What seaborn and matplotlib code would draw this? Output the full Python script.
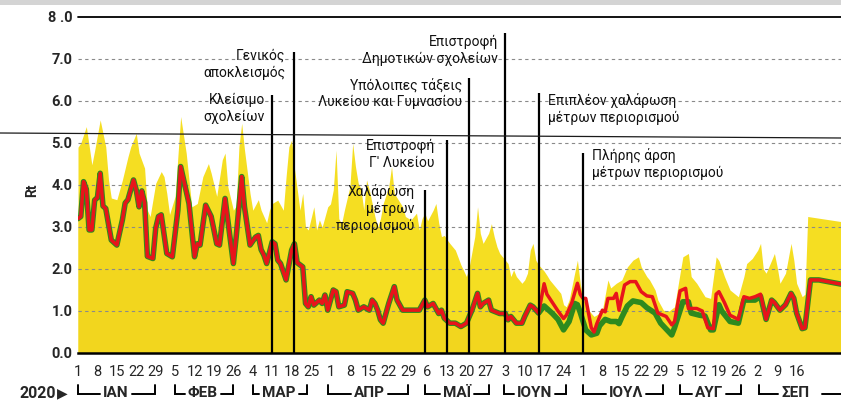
import numpy as np
import pandas as pd
import seaborn as sns
import matplotlib.pyplot as plt
from matplotlib.lines import Line2D
from matplotlib.patches import Rectangle

# Rt estimate (red), days counted from 1 Jan 2020
red_days = [0, 1, 2, 3, 4, 5, 6, 7, 8, 9, 10, 12, 14, 16, 17, 18, 20, 21, 22, 23,
            24, 25, 27, 28, 29, 30, 32, 34, 36, 37, 40, 42, 43, 44, 46, 48, 50, 51,
            53, 54, 56, 57, 59, 60, 62, 64, 65, 66, 67, 68, 70, 71, 72, 73, 75, 77,
            78, 79, 81, 82, 83, 84, 85, 87, 88, 89, 90, 92, 93, 94, 96, 97, 99, 100,
            101, 103, 105, 106, 107, 108, 109, 110, 112, 114, 115, 117, 119, 121,
            123, 125, 126, 128, 130, 131, 132, 134, 136, 138, 140, 142, 144, 145,
            146, 148, 149, 152, 154, 155, 156, 158, 160, 161, 163, 164, 166, 168,
            169, 171, 173, 175, 176, 178, 180, 181, 182, 183, 185, 186, 187, 189,
            190, 191, 193, 194, 195, 197, 199, 201, 203, 205, 207, 209, 212, 214,
            215, 217, 219, 220, 223, 225, 227, 229, 230, 231, 233, 235, 238, 240,
            242, 244, 246, 248, 250, 251, 253, 255, 257, 258, 259, 261, 262, 264,
            267, 275]
red_vals = [3.2, 3.25, 4.08, 3.9, 2.93, 2.93, 3.64, 3.7, 4.28, 3.5, 3.44, 2.69, 2.57,
            3.17, 3.57, 3.65, 4.12, 3.88, 3.48, 3.86, 3.58, 2.3, 2.25, 2.97, 3.25,
            3.29, 2.37, 2.29, 3.4, 4.44, 3.56, 2.29, 2.6, 2.57, 3.52, 3.25, 2.6, 2.57,
            3.68, 3.17, 2.13, 2.76, 4.2, 3.48, 2.57, 2.76, 2.8, 2.46, 2.33, 2.13,
            2.65, 2.6, 2.21, 2.13, 1.74, 2.45, 2.6, 2.15, 2.05, 1.18, 1.1, 1.34,
            1.14, 1.26, 1.18, 1.38, 1.02, 1.5, 1.46, 1.1, 1.14, 1.46, 1.42, 1.26,
            1.02, 1.1, 1.02, 1.26, 1.18, 1.02, 0.79, 0.71, 1.18, 1.58, 1.26, 1.02,
            1.02, 1.02, 1.02, 1.26, 1.1, 1.18, 0.94, 1.02, 0.83, 0.71, 0.71, 0.63,
            0.71, 1.02, 1.42, 1.1, 1.18, 1.26, 1.02, 0.94, 0.94, 0.79, 0.87, 0.71,
            0.71, 0.87, 1.14, 1.1, 0.95, 1.65, 1.4, 1.2, 1.0, 0.82, 0.9, 1.2, 1.66,
            1.4, 1.3, 1.3, 0.6, 0.5, 0.7, 1.02, 0.98, 1.3, 1.3, 1.42, 1.02, 1.62,
            1.7, 1.7, 1.46, 1.36, 1.34, 0.95, 0.87, 0.67, 0.75, 1.48, 1.54, 1.06,
            1.06, 1.0, 0.6, 0.58, 1.4, 1.46, 1.2, 0.9, 0.8, 1.34, 1.3, 1.34, 1.4,
            0.8, 1.26, 1.2, 1.02, 1.15, 1.42, 1.3, 0.95, 0.58, 0.6, 1.74, 1.74, 1.64]

# second estimate (green), only where it leaves the red curve
green_days = [166, 168, 171, 173, 175, 177, 179, 180, 181, 183, 185, 187, 188, 190,
              192, 194, 195, 196, 198, 200, 203, 205, 208, 210, 213, 214, 215, 218,
              220, 221, 224, 226, 228, 229, 231, 232, 235, 238, 240, 244, 246]
green_vals = [0.95, 1.12, 0.94, 0.8, 0.55, 0.75, 1.18, 1.15, 0.97, 0.55, 0.43, 0.47,
              0.65, 0.8, 0.75, 0.75, 0.7, 0.85, 1.12, 1.24, 1.2, 1.08, 0.95, 0.71,
              0.5, 0.43, 0.6, 1.22, 1.22, 0.95, 0.9, 0.88, 0.55, 0.55, 1.15, 1.0,
              0.75, 0.71, 1.26, 1.26, 1.35]

# upper bound of the uncertainty band
upper_days = [0, 1, 3, 5, 6, 8, 10, 11, 12, 14, 16, 18, 19, 21, 22, 24, 25, 26, 28,
              30, 31, 32, 33, 35, 37, 39, 41, 43, 45, 47, 48, 50, 52, 53, 54, 56, 57,
              58, 59, 60, 62, 63, 65, 66, 68, 69, 70, 72, 74, 75, 76, 77, 78, 80, 81,
              82, 83, 85, 86, 87, 88, 90, 91, 92, 93, 94, 95, 96, 98, 99, 100, 101,
              102, 103, 104, 105, 107, 108, 109, 110, 112, 113, 114, 117, 118, 120,
              122, 123, 124, 125, 126, 128, 129, 130, 131, 132, 133, 134, 136, 138,
              140, 141, 143, 144, 145, 146, 148, 149, 150, 151, 152, 154, 155, 156,
              157, 158, 160, 161, 162, 163, 164, 165, 166, 168, 169, 170, 172, 174,
              175, 176, 177, 179, 180, 181, 182, 184, 186, 188, 189, 191, 192, 194,
              196, 198, 200, 202, 203, 205, 206, 208, 209, 211, 213, 215, 217, 218,
              220, 221, 223, 226, 228, 230, 231, 233, 235, 238, 240, 241, 243, 245,
              246, 247, 248, 250, 251, 252, 253, 255, 257, 258, 259, 261, 262, 263,
              275]
upper_vals = [4.9, 5.0, 5.39, 4.48, 4.82, 5.55, 4.91, 4.12, 3.69, 3.65, 4.12, 4.67,
              4.91, 5.23, 4.76, 4.4, 3.4, 3.25, 4.04, 4.32, 4.2, 3.8, 3.3, 3.73, 5.63,
              4.76, 3.48, 3.56, 4.2, 4.51, 4.28, 3.73, 4.6, 4.76, 3.96, 3.4, 3.5, 4.91,
              5.47, 4.84, 3.8, 3.4, 3.65, 3.4, 3.1, 3.4, 3.56, 3.64, 3.4, 4.2, 4.91,
              5.07, 4.4, 3.4, 3.8, 3.0, 2.93, 3.48, 2.93, 3.17, 3.0, 3.48, 3.55, 3.88,
              4.83, 3.2, 3.08, 3.4, 3.96, 4.99, 4.44, 4.04, 3.9, 3.4, 4.12, 3.88,
              3.25, 3.0, 3.2, 3.56, 3.96, 4.44, 3.8, 3.48, 3.25, 3.17, 3.33, 2.93,
              3.2, 3.33, 3.15, 3.4, 3.56, 3.1, 2.77, 2.8, 2.7, 2.61, 2.45, 2.1, 1.82,
              2.05, 2.77, 3.48, 2.85, 2.61, 2.85, 3.08, 2.77, 2.53, 2.37, 2.21, 2.13,
              1.82, 1.98, 1.82, 1.66, 1.74, 1.9, 2.45, 2.61, 2.21, 2.1, 1.95, 1.85,
              1.74, 1.58, 1.42, 1.15, 1.1, 1.26, 1.9, 2.21, 1.66, 1.3, 1.02, 0.87,
              0.95, 1.02, 1.74, 1.55, 1.66, 1.74, 2.05, 2.21, 2.29, 2.05, 1.82, 1.74,
              1.5, 1.26, 1.02, 1.0, 1.1, 1.9, 2.29, 2.37, 1.82, 1.66, 1.34, 1.3, 2.29,
              2.2, 1.82, 1.5, 1.34, 1.82, 2.13, 2.25, 2.45, 2.61, 2.0, 1.9, 2.21, 2.37,
              2.05, 1.66, 1.9, 2.61, 2.21, 1.66, 1.34, 1.4, 3.25, 3.13]

# events: day of the vertical line, top of the line, label
event_days = [70, 78, 125, 133, 141, 154, 166, 182]
event_tops = [6.14, 7.17, 3.88, 5.07, 6.55, 7.62, 6.19, 4.76]
event_labels = ["Κλείσιμο\nσχολείων",
                "Γενικός\nαποκλεισμός",
                "Χαλάρωση\nμέτρων\nπεριορισμού",
                "Επιστροφή\nΓ' Λυκείου",
                "Υπόλοιπες τάξεις\nΛυκείου και Γυμνασίου",
                "Επιστροφή\nΔημοτικών σχολείων",
                "Επιπλέον χαλάρωση\nμέτρων περιορισμού",
                "Πλήρης άρση\nμέτρων περιορισμού"]
label_x = [67.4, 74.6, 121.4, 128.6, 138.3, 151.4, 169.4, 185.2]
label_y = [5.83, 6.88, 3.45, 4.74, 6.18, 7.21, 5.81, 4.5]
label_ha = ["right", "right", "right", "right", "right", "right", "left", "left"]

tick_labels = ["1", "8", "15", "22", "29", "5", "12", "19", "26", "4", "11", "18",
               "25", "1", "8", "15", "22", "29", "6", "13", "20", "27", "3", "10",
               "17", "24", "1", "8", "15", "22", "29", "5", "12", "19", "26", "2",
               "9", "16"]
month_names = ["ΙΑΝ", "ΦΕΒ", "ΜΑΡ", "ΑΠΡ", "ΜΑΪ", "ΙΟΥΝ", "ΙΟΥΛ", "ΑΥΓ", "ΣΕΠ"]
month_start = [0, 35, 63, 90, 125, 153.5, 182, 217, 245.5]
month_mid = [13.7, 45, 72.4, 105, 136.6, 164.6, 197.5, 227.5, 258.5]
month_end = [27.9, 56, 82.7, 119, 148, 175.8, 210.8, 239, None]

sns.set_style("white")
plt.rcParams["font.family"] = ["Roboto", "DejaVu Sans"]

fig = plt.figure(figsize=(8.41, 4.05), dpi=100)
ax = fig.add_axes([78 / 841, 52 / 405, 763 / 841, 336 / 405])

red_df = pd.DataFrame({"day": red_days, "Rt": red_vals})
div_df = pd.DataFrame({"day": green_days, "Rt": green_vals})
green_df = pd.concat([red_df[red_df.day < green_days[0]], div_df,
                      red_df[red_df.day > green_days[-1]]]).sort_values("day")

# band
ax.fill_between(upper_days, 0, upper_vals, color="#F5DE22", lw=0, zorder=1)
ax.fill_between(green_df.day, 0, green_df.Rt, color="#F2D61E", lw=0, zorder=1.2)

# grid
for v in range(1, 8):
    ax.axhline(v, color="#8a8a8a", lw=0.8, ls=(0, (3, 3)), zorder=2)
ax.axhline(8, color="black", lw=1.3, zorder=3, clip_on=False)

sns.lineplot(data=green_df, x="day", y="Rt", estimator=None, color="#2E8A1E",
             lw=4.0, ax=ax, zorder=4)
sns.lineplot(data=red_df, x="day", y="Rt", estimator=None, color="#E8141B",
             lw=2.5, ax=ax, zorder=5)

ax.vlines(event_days, 0, event_tops, colors="black", lw=1.6, zorder=6)
for txt, x, y, ha in zip(event_labels, label_x, label_y, label_ha):
    ax.text(x, y, txt, ha=ha, va="center", multialignment=ha, fontsize=10,
            linespacing=1.25, color="#111111", zorder=7)

ax.set_xlim(0, 275)
ax.set_ylim(0, 8)
ax.set_xlabel("")
ax.set_ylabel("")
ax.set_xticks(np.arange(len(tick_labels)) * 7)
ax.set_xticklabels(tick_labels, fontsize=10.5)
ax.set_yticks(range(9))
ax.set_yticklabels(["0.0", "1.0", "2.0", "3.0", "4.0", "5.0", "6.0", "7.0", "8 .0"],
                   fontsize=10.5, fontweight="bold")
ax.tick_params(axis="x", length=0, pad=9)
ax.tick_params(axis="y", length=0, pad=4)
for s in ["top", "right", "left"]:
    ax.spines[s].set_visible(False)
ax.spines["bottom"].set_color("black")
ax.spines["bottom"].set_linewidth(1.8)
ax.spines["bottom"].set_zorder(8)

# month brackets under the day numbers
fig.canvas.draw()
inv = ax.transData.inverted()
y_txt, y_base, y_top = -0.96, -0.98, -0.76
for name, s, m, e in zip(month_names, month_start, month_mid, month_end):
    t = ax.text(m, y_txt, name, ha="center", va="center", fontsize=11,
                fontweight="bold", clip_on=False)
    bb = t.get_window_extent(renderer=fig.canvas.get_renderer())
    x0 = inv.transform((bb.x0 - 3, 0))[0]
    x1 = inv.transform((bb.x1 + 3, 0))[0]
    ax.plot([s, s, x0], [y_top, y_base, y_base], color="black", lw=1.4,
            clip_on=False, solid_joinstyle="miter")
    if e is None:
        ax.plot([x1 + 3.5, 275], [y_base, y_base], color="black", lw=1.4,
                clip_on=False)
    else:
        ax.plot([x1, e, e], [y_base, y_base, y_top], color="black", lw=1.4,
                clip_on=False, solid_joinstyle="miter")

fig.text(38 / 841, 1 - 393 / 405, "2020", ha="center", va="center",
         fontsize=11.5, fontweight="bold")
fig.text(62 / 841, 1 - 393 / 405, "▶", ha="center", va="center", fontsize=10,
         family=["DejaVu Sans"])
fig.text(32 / 841, 1 - 190 / 405, "Rt", rotation=90, ha="center", va="center",
         fontsize=10, fontweight="bold")

# scan marks of the printed page
fig.add_artist(Rectangle((0, 1 - 5 / 405), 1, 5 / 405, transform=fig.transFigure,
                         color="#d4d4d4", lw=0))
fig.add_artist(Line2D([0, 1], [1 - 133 / 405, 1 - 138 / 405],
                      transform=fig.transFigure, color="#1a1a1a", lw=0.9))

fig.savefig("out.png", dpi=100)
